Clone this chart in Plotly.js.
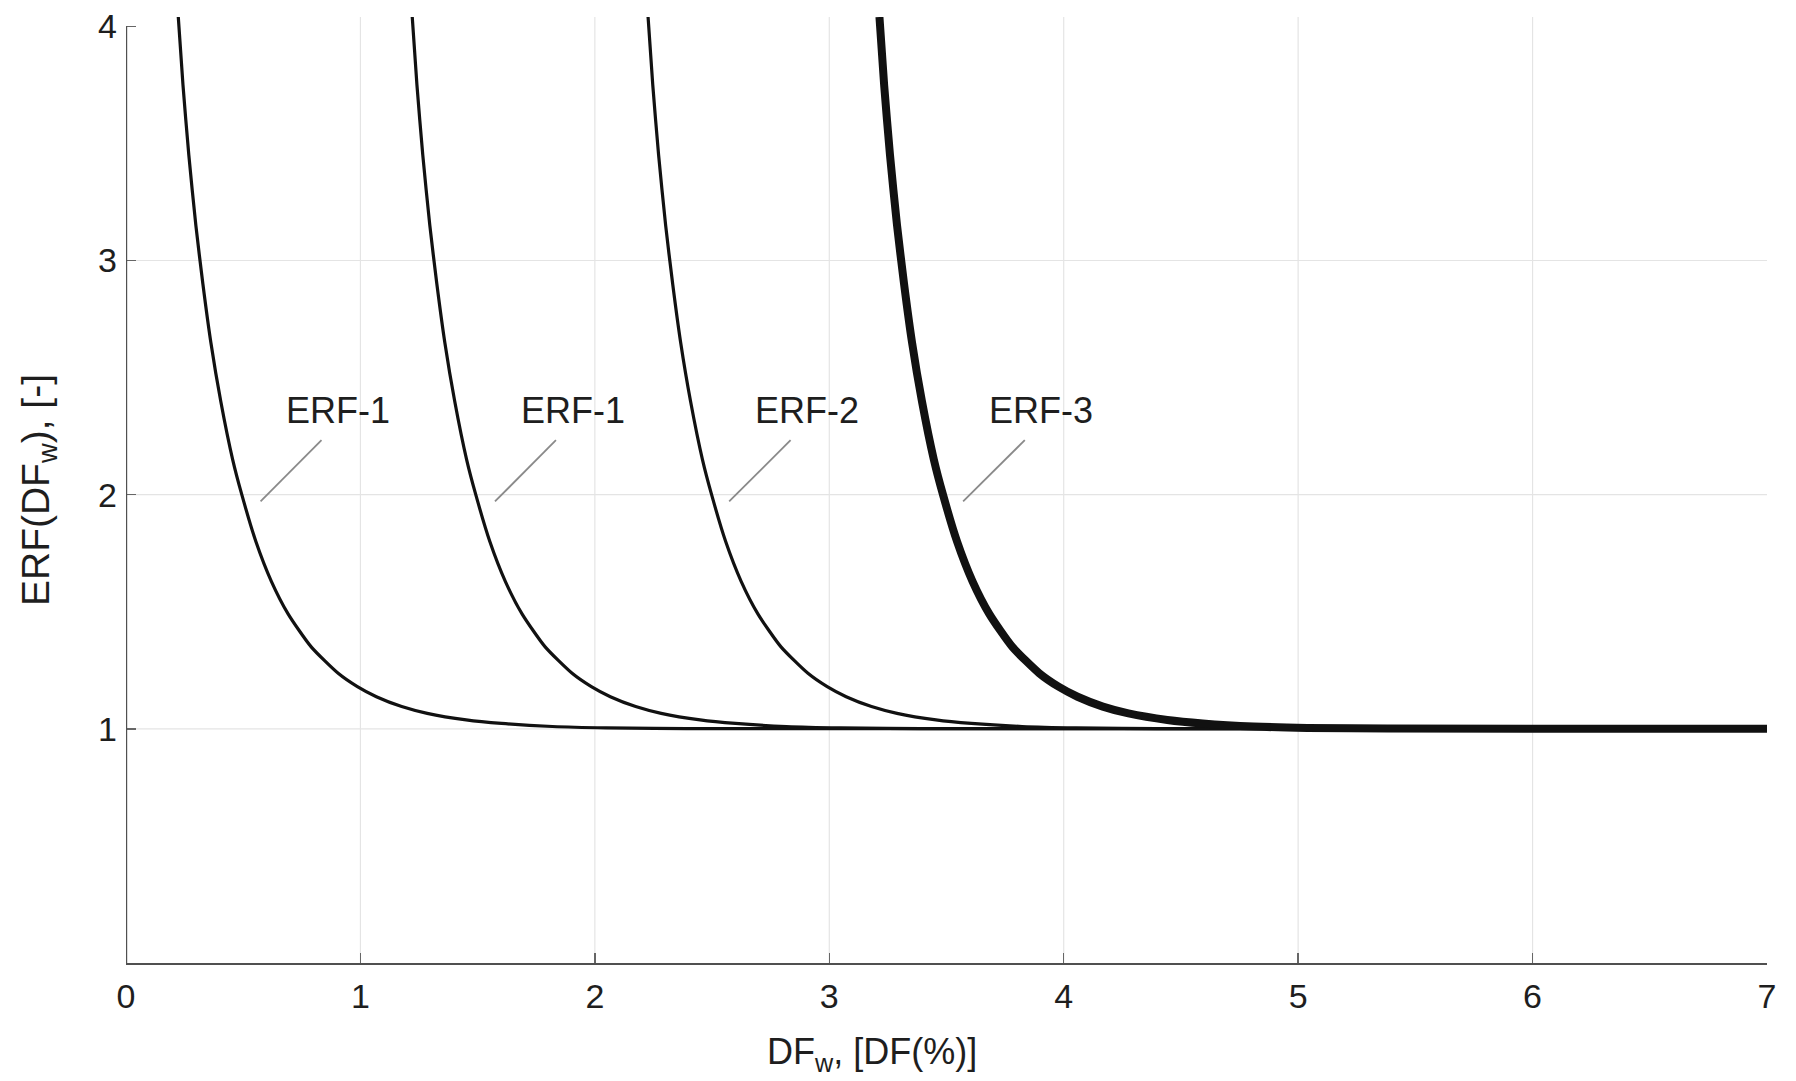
<!DOCTYPE html>
<html>
<head>
<meta charset="utf-8">
<script src="https://cdn.plot.ly/plotly-3.0.1.min.js"></script>
<style>
  html, body { margin: 0; padding: 0; background: #ffffff; }
  #chart { width: 1796px; height: 1081px; }
</style>
</head>
<body>
<div id="chart"></div>
<script>
// ERF(DFw) response curves: y levels shared by all four curves
const erfY = [4.04, 3.75, 3.45, 3.15, 2.90, 2.65, 2.40, 2.15, 2.00, 1.80, 1.63, 1.49, 1.35, 1.237, 1.180, 1.137, 1.095, 1.066, 1.038, 1.023, 1.010, 1.004, 1.001, 1.000];

const erf1aX = [0.223, 0.243, 0.268, 0.298, 0.328, 0.362, 0.404, 0.455, 0.494, 0.554, 0.620, 0.692, 0.790, 0.905, 0.987, 1.068, 1.176, 1.285, 1.451, 1.602, 1.819, 2.048, 2.390, 7.000];
const erf1bX = [1.221, 1.241, 1.266, 1.296, 1.326, 1.360, 1.402, 1.453, 1.492, 1.552, 1.618, 1.690, 1.788, 1.903, 1.985, 2.066, 2.174, 2.283, 2.449, 2.600, 2.817, 3.046, 3.388, 7.000];
const erf2X  = [2.227, 2.247, 2.272, 2.302, 2.332, 2.366, 2.408, 2.459, 2.498, 2.558, 2.624, 2.696, 2.794, 2.909, 2.991, 3.072, 3.180, 3.289, 3.455, 3.606, 3.823, 4.052, 4.394, 7.000];
const erf3X  = [3.214, 3.234, 3.259, 3.289, 3.319, 3.353, 3.395, 3.446, 3.485, 3.545, 3.611, 3.683, 3.781, 3.896, 3.978, 4.059, 4.167, 4.276, 4.442, 4.593, 4.810, 5.039, 5.381, 7.000];

// curve labels and their leader lines
const labelText = ['ERF-1', 'ERF-1', 'ERF-2', 'ERF-3'];
const labelX = [0.905, 1.905, 2.906, 3.905];
const labelY = [2.36, 2.36, 2.36, 2.36];
const leaderX0 = [0.834, 1.834, 2.835, 3.834];
const leaderY0 = [2.233, 2.233, 2.233, 2.233];
const leaderX1 = [0.574, 1.574, 2.573, 3.571];
const leaderY1 = [1.971, 1.971, 1.971, 1.971];

const xTicks = [0, 1, 2, 3, 4, 5, 6, 7];
const yTicks = [1, 2, 3, 4];
const xGrid = [1, 2, 3, 4, 5, 6];
const yGrid = [1, 2, 3];

const FONT = '"Liberation Sans", Arial, Helvetica, sans-serif';
const INK = '#111111';
const TEXT = '#1e1e1e';

function curve(x, y, w) {
  return { x: x, y: y, type: 'scatter', mode: 'lines',
           line: { color: INK, width: w, shape: 'spline', smoothing: 0.6 },
           hoverinfo: 'skip', showlegend: false };
}

const traces = [
  curve(erf1aX, erfY, 3.2),
  curve(erf1bX, erfY, 3.2),
  curve(erf2X, erfY, 3.2),
  curve(erf3X, erfY, 8)
];

const shapes = [];
xGrid.forEach(v => shapes.push({ type: 'line', layer: 'below', xref: 'x', yref: 'paper',
  x0: v, x1: v, y0: 0, y1: 1, line: { color: '#e4e4e4', width: 1.2 } }));
yGrid.forEach(v => shapes.push({ type: 'line', layer: 'below', xref: 'paper', yref: 'y',
  x0: 0, x1: 1, y0: v, y1: v, line: { color: '#e4e4e4', width: 1.2 } }));
// left axis line, up to the top tick
shapes.push({ type: 'line', xref: 'x', yref: 'y', x0: 0, x1: 0, y0: 0, y1: 4,
  line: { color: '#505050', width: 2.4 } });
labelText.forEach((t, i) => shapes.push({ type: 'line', xref: 'x', yref: 'y',
  x0: leaderX0[i], y0: leaderY0[i], x1: leaderX1[i], y1: leaderY1[i],
  line: { color: '#8a8a8a', width: 1.8 } }));

const annotations = labelText.map((t, i) => ({
  x: labelX[i], y: labelY[i], xref: 'x', yref: 'y', text: t, showarrow: false,
  xanchor: 'center', yanchor: 'middle', font: { family: FONT, size: 36, color: TEXT }
}));
annotations.push({
  text: 'DF<sub>w</sub>, [DF(%)]', xref: 'paper', yref: 'paper', x: 0.4546, y: -0.096,
  xanchor: 'center', yanchor: 'middle', showarrow: false,
  font: { family: FONT, size: 36, color: TEXT }
});
annotations.push({
  text: 'ERF(DF<sub>w</sub>), [-]', xref: 'paper', yref: 'paper', x: -0.0536, y: 0.50,
  xanchor: 'center', yanchor: 'middle', textangle: -90, showarrow: false,
  font: { family: FONT, size: 39, color: TEXT }
});

const layout = {
  width: 1796, height: 1081,
  margin: { l: 126, r: 29, t: 17, b: 118 },
  paper_bgcolor: '#ffffff', plot_bgcolor: '#ffffff',
  font: { family: FONT, color: TEXT },
  showlegend: false,
  xaxis: {
    range: [0, 7], tickvals: xTicks, ticktext: xTicks.map(String),
    showgrid: false, zeroline: false,
    showline: true, linecolor: '#505050', linewidth: 2.4,
    ticks: 'inside', ticklen: 10, tickwidth: 1.5, tickcolor: '#666666',
    ticklabelstandoff: 2,
    tickfont: { family: FONT, size: 34, color: TEXT }
  },
  yaxis: {
    range: [0, 4.04], tickvals: yTicks, ticktext: yTicks.map(String),
    showgrid: false, zeroline: false, showline: false,
    ticks: 'inside', ticklen: 10, tickwidth: 1.5, tickcolor: '#666666',
    ticklabelstandoff: 8,
    tickfont: { family: FONT, size: 34, color: TEXT }
  },
  shapes: shapes,
  annotations: annotations
};

Plotly.newPlot('chart', traces, layout, { staticPlot: true, displayModeBar: false });
</script>
</body>
</html>
